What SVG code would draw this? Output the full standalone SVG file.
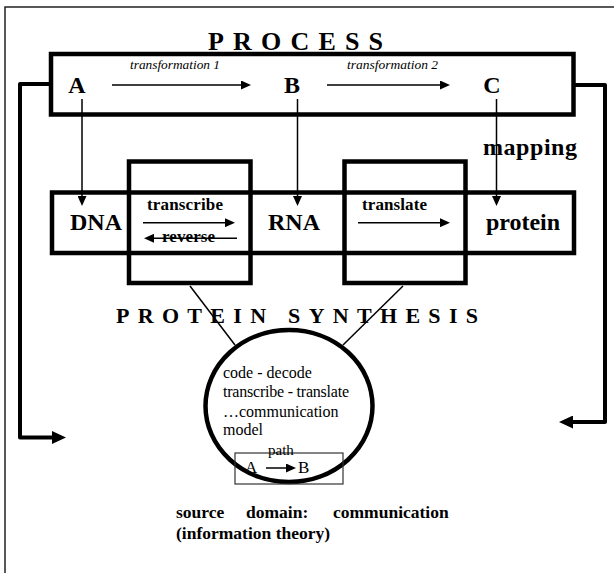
<svg xmlns="http://www.w3.org/2000/svg" width="614" height="573" viewBox="0 0 614 573">
<defs>
<marker id="ah" viewBox="0 0 10 9" markerWidth="10" markerHeight="9" refX="0" refY="4.5" orient="auto" markerUnits="userSpaceOnUse"><path d="M0,0 L10,4.5 L0,9 Z" fill="#000"/></marker>
<marker id="ahb" viewBox="0 0 14 13" markerWidth="14" markerHeight="13" refX="0" refY="6.5" orient="auto" markerUnits="userSpaceOnUse"><path d="M0,0 L14,6.5 L0,13 Z" fill="#000"/></marker>
</defs>
<style>
.thick{fill:none;stroke:#000;stroke-width:4.5}
.brk{fill:none;stroke:#000;stroke-width:4;stroke-linejoin:round}
.thin{fill:none;stroke:#000;stroke-width:1.5}
.arr{fill:none;stroke:#000;stroke-width:1.5;marker-end:url(#ah)}
.barr{marker-end:url(#ahb)}
text{font-family:"Liberation Serif","Times New Roman",serif;fill:#000}
.b{font-weight:bold}
.big{font-size:24px;font-weight:bold}
.mid{font-size:17px;font-weight:bold}
.it{font-size:13.5px;font-style:italic}
.sm{font-size:16px}
.c{text-anchor:middle}
</style>
<rect width="614" height="573" fill="#fff"/>
<path d="M5,573 V7 H614" fill="none" stroke="#222" stroke-width="1.5"/>

<g id="process">
<rect class="thick" x="51" y="54" width="522.5" height="60.5"/>
<text class="b" x="208" y="50" font-size="26" textLength="175" lengthAdjust="spacing">PROCESS</text>
<text class="big c" x="77" y="93">A</text>
<text class="big c" x="292" y="93">B</text>
<text class="big c" x="492" y="93">C</text>
<text class="it" x="130" y="69" textLength="90" lengthAdjust="spacingAndGlyphs">transformation 1</text>
<text class="it" x="347" y="69" textLength="91" lengthAdjust="spacingAndGlyphs">transformation 2</text>
</g>

<g id="synthesis">
<rect class="thick" x="52" y="192.5" width="522" height="60.5"/>
<rect class="thick" x="129" y="161.5" width="121.5" height="121.5"/>
<rect class="thick" x="344.5" y="161.5" width="121" height="121.5"/>
<text class="big c" x="96" y="230">DNA</text>
<text class="big c" x="294" y="230">RNA</text>
<text class="big c" x="523" y="230">protein</text>
<text class="mid" x="147" y="210" textLength="76" lengthAdjust="spacing">transcribe</text>
<text class="mid" x="162" y="241.5" textLength="53" lengthAdjust="spacing">reverse</text>
<text class="mid" x="362" y="210" textLength="65" lengthAdjust="spacing">translate</text>
<text class="b" x="116" y="323" font-size="22" textLength="362" lengthAdjust="spacing">PROTEIN SYNTHESIS</text>
</g>

<g id="mapping">
<text class="big" x="483" y="155" textLength="94" lengthAdjust="spacing">mapping</text>
</g>

<g id="source">
<ellipse class="thick" cx="289" cy="406" rx="83.5" ry="76"/>
<text class="sm" x="223" y="378">code - decode</text>
<text class="sm" x="223" y="397" textLength="126" lengthAdjust="spacing">transcribe - translate</text>
<text class="sm" x="223" y="417">…communication</text>
<text class="sm" x="223" y="435">model</text>
<rect x="235" y="453" width="108" height="31" fill="none" stroke="#333" stroke-width="1.2"/>
<text x="268" y="455" font-size="15">path</text>
<text x="245" y="473" font-size="17">A</text>
<text x="298" y="473" font-size="17">B</text>
<text class="b" y="518" font-size="17.5"><tspan x="176">source</tspan><tspan x="246">domain:</tspan><tspan x="333">communication</tspan></text>
<text class="b" x="176" y="539" font-size="17.5">(information theory)</text>
</g>

<g id="connectors">
<path class="arr" d="M112,85 H241"/>
<path class="arr" d="M327,85 H440"/>
<path class="arr" d="M82,99 V196"/>
<path class="arr" d="M297.5,99 V196"/>
<path class="arr" d="M496.5,99 V196"/>
<path class="arr" d="M143,222.7 H225"/>
<path class="arr" d="M237,238.3 H154"/>
<path class="arr" d="M358,222.7 H440"/>
<path class="thin" d="M190,286 L235,345"/>
<path class="thin" d="M403,286 L343,345"/>
<path class="arr" d="M266,468 H286"/>
<path class="brk barr" d="M51,84 H20 V437.5 H52"/>
<path class="brk barr" d="M573.5,85 H605 V422 H573"/>
</g>
</svg>
